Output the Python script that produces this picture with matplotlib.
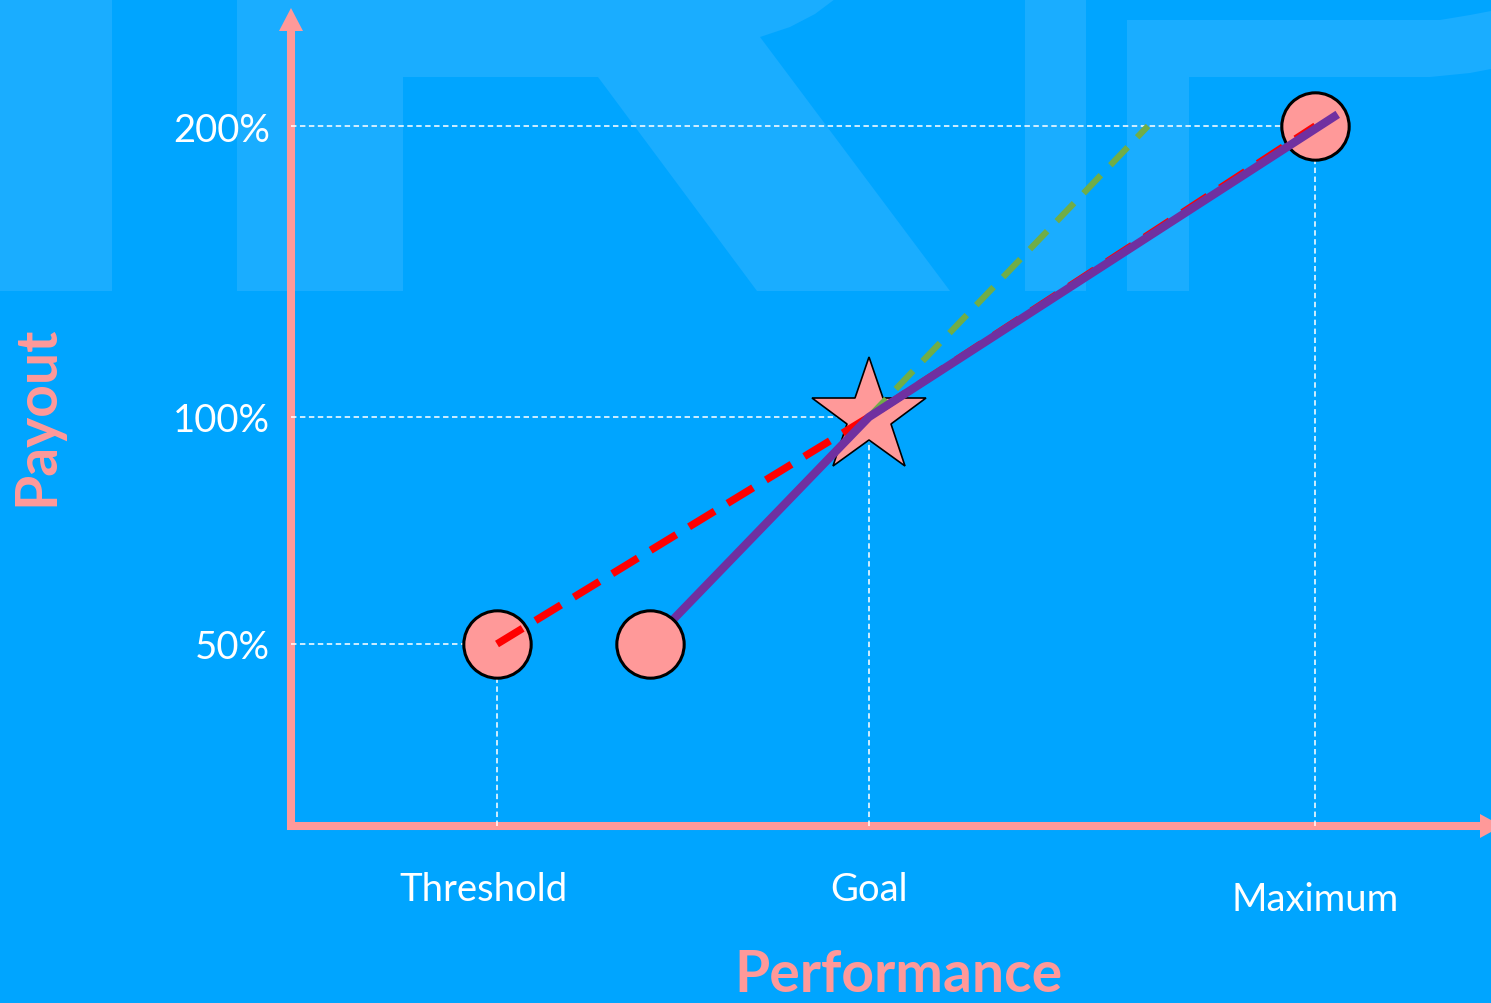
import numpy as np
import matplotlib
matplotlib.use("Agg")
import matplotlib.pyplot as plt
from matplotlib.patches import Polygon

# ---------------- data ----------------
x_labels = ["Threshold", "Goal", "Maximum"]
x_label_perf = [80, 100, 124]          # performance level of each label
y_tick_values = [50, 100, 200]
y_tick_labels = ["50%", "100%", "200%"]

threshold_perf, threshold_pay = 80, 50
alt_start_perf, alt_start_pay = 88.2, 50
goal_perf, goal_pay = 100, 100
max_perf, max_pay = 124, 200

red_perf = [80, 100, 124]               # original (linear) curve
red_pay = [50, 100, 200]
purple_perf = [88.2, 100, 125.2]        # new curve
purple_pay = [50, 100, 204]
green_perf = [100, 115]                 # steeper alternative above goal
green_pay = [100, 200]

# ---------------- style ----------------
BG = "#00A5FF"
WM = "#1AADFF"
PINK = "#FF9999"
RED = "#FF0000"
PURPLE = "#7030A0"
GREEN = "#70AD47"
FONT = ["Lato", "DejaVu Sans"]
plt.rcParams["font.family"] = FONT

W, H = 1491, 1004
fig = plt.figure(figsize=(W / 100, H / 100), dpi=100)
fig.patch.set_facecolor(BG)

# background axes in pixel coordinates (watermark + axis arrows)
bg = fig.add_axes([0, 0, 1, 1])
bg.set_xlim(0, W)
bg.set_ylim(H, 0)
bg.axis("off")
bg.set_zorder(0)

wm_shapes = [
    [(0, 0), (112, 0), (112, 292), (0, 292)],
    [(237, 292), (237, 0), (835, 0), (815, 15), (790, 28), (760, 38),
     (950, 292), (757, 292), (598, 78), (403, 78), (403, 292)],
    [(1025, 0), (1086, 0), (1086, 292), (1025, 292)],
    [(1127, 292), (1127, 21), (1440, 21), (1470, 16), (1491, 12),
     (1491, 70), (1470, 74), (1430, 78), (1189, 78), (1189, 292)],
]
for shp in wm_shapes:
    bg.add_patch(Polygon(shp, closed=True, facecolor=WM, edgecolor="none"))

# axis arrows
AX_X0, AX_Y0 = 291, 827
bg.plot([AX_X0, AX_X0], [AX_Y0 + 4, 30], color=PINK, lw=5.8, solid_capstyle="butt")
bg.add_patch(Polygon([(AX_X0 - 12, 32), (AX_X0 + 12, 32), (AX_X0, 9)],
                     closed=True, facecolor=PINK, edgecolor="none"))
bg.plot([AX_X0 - 4, 1482], [AX_Y0, AX_Y0], color=PINK, lw=5.8, solid_capstyle="butt")
bg.add_patch(Polygon([(1480, AX_Y0 - 12), (1480, AX_Y0 + 12), (1502, AX_Y0)],
                     closed=True, facecolor=PINK, edgecolor="none"))

# ---------------- main axes ----------------
PX_PER_PERF = 18.6
GOAL_PX = 869
ax = fig.add_axes([AX_X0 / W, (H - AX_Y0) / H, 1 - AX_X0 / W, (AX_Y0 - 9) / H])
ax.set_facecolor("none")
ax.set_zorder(1)
for s in ax.spines.values():
    s.set_visible(False)

PAY_KNOTS = [-100, 0, 50, 100, 200, 1000]
PX_KNOTS = [-499, -45, 182, 409, 700, 3028]
fwd = lambda v: np.interp(v, PAY_KNOTS, PX_KNOTS)
inv = lambda p: np.interp(p, PX_KNOTS, PAY_KNOTS)
ax.set_yscale("function", functions=(fwd, inv))
ax.set_ylim(float(inv(0)), float(inv(AX_Y0 - 9)))
ax.set_xlim(100 - (GOAL_PX - AX_X0) / PX_PER_PERF, 100 + (W - GOAL_PX) / PX_PER_PERF)

ax.set_yticks(y_tick_values)
ax.set_yticklabels(y_tick_labels)
ax.tick_params(axis="y", length=0, pad=15, labelsize=27.5, labelcolor="white")
ax.set_xticks([])
ax.minorticks_off()

# guide lines
ymin = ax.get_ylim()[0]
xmin = ax.get_xlim()[0]
guide = dict(color="white", alpha=0.8, lw=1.4, linestyle=(0, (2.8, 1.8)), zorder=1)
for px, py in [(threshold_perf, threshold_pay), (goal_perf, goal_pay), (max_perf, max_pay)]:
    ax.plot([xmin, px], [py, py], **guide)
    ax.plot([px, px], [ymin, py], **guide)

# markers
circ = dict(marker="o", ms=48.5, mfc=PINK, mec="black", mew=2.2, linestyle="none")
ax.plot([threshold_perf, max_perf], [threshold_pay, max_pay], zorder=3, **circ)
ax.plot([goal_perf], [goal_pay], marker="*", ms=87, mfc=PINK, mec="black",
        mew=1.2, linestyle="none", zorder=3.5)

# curves
ax.plot(red_perf, red_pay, color=RED, lw=5.4, linestyle=(0, (4, 2)), zorder=4,
        dash_capstyle="butt")
ax.plot(green_perf, green_pay, color=GREEN, lw=4.5, linestyle=(0, (4, 2.2)), zorder=4,
        dash_capstyle="butt")
ax.plot(purple_perf, purple_pay, color=PURPLE, lw=6, zorder=5, solid_capstyle="butt",
        solid_joinstyle="round")
ax.plot([alt_start_perf], [alt_start_pay], zorder=6, **circ)

# x category labels
xtr = ax.get_xaxis_transform()
label_dx = [-14, 0, 0]
label_y = [-0.077, -0.077, -0.089]
for lab, xp, dx, yy in zip(x_labels, x_label_perf, label_dx, label_y):
    ax.text(xp + dx / PX_PER_PERF, yy, lab, transform=xtr, ha="center", va="center",
            fontsize=27.5, color="white")

# axis titles
fig.text(37 / W, (H - 416) / H, "Payout", rotation=90, ha="center", va="center",
         fontsize=41, fontweight="bold", color=PINK)
fig.text(898 / W, (H - 976) / H, "Performance", ha="center", va="center",
         fontsize=41, fontweight="bold", color=PINK)

fig.savefig("out.png", dpi=100, facecolor=BG)
